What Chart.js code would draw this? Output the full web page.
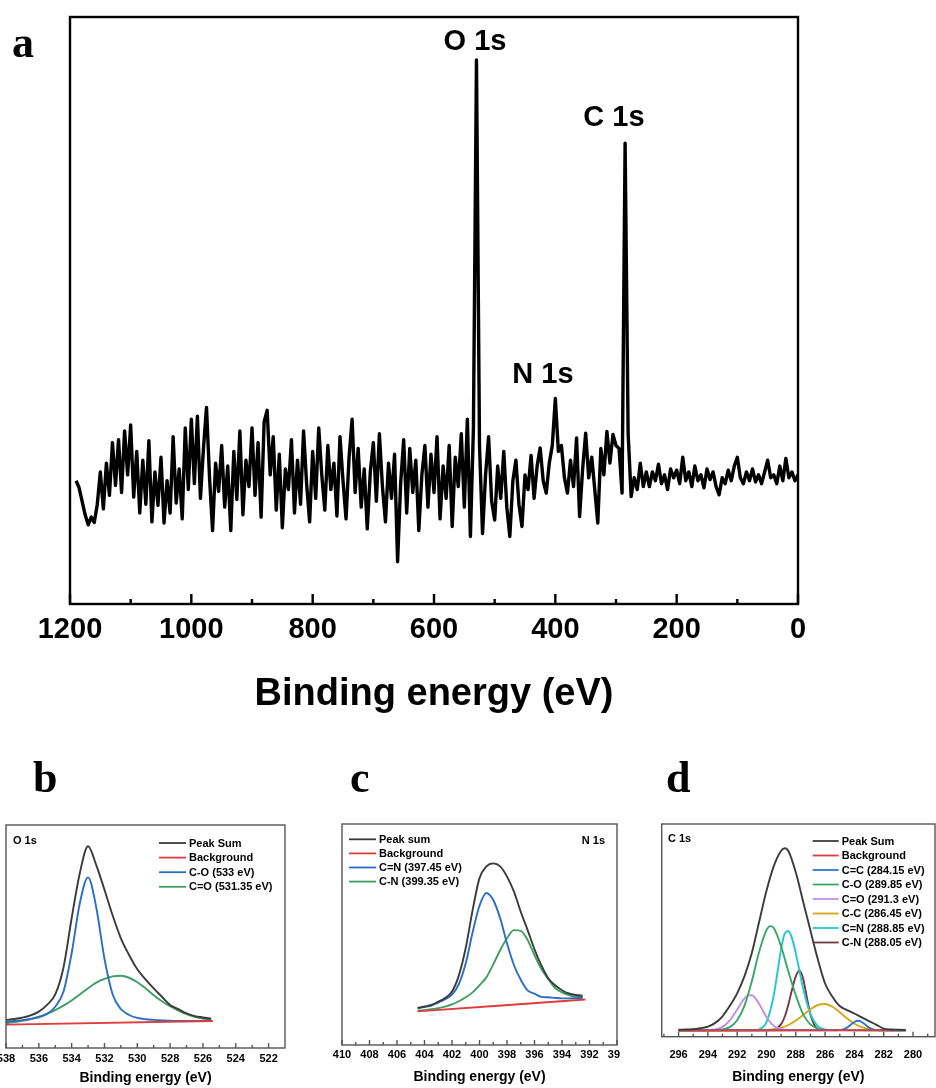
<!DOCTYPE html>
<html>
<head>
<meta charset="utf-8">
<script src="https://cdn.jsdelivr.net/npm/chart.js@4.4.0/dist/chart.umd.min.js"></script>
<style>
  body { margin: 0; background: #fff; width: 936px; height: 1088px; position: relative; overflow: hidden; }
  canvas { position: absolute; }
</style>
</head>
<body>
<canvas id="survey" width="936" height="740" style="left:0;top:0"></canvas>
<canvas id="o1s" width="310" height="348" style="left:0;top:740px"></canvas>
<canvas id="n1s" width="310" height="348" style="left:310px;top:740px"></canvas>
<canvas id="c1s" width="316" height="348" style="left:620px;top:740px"></canvas>
<script>
// ---- survey spectrum (a): sampled every 5 eV from 1190 eV down to 0 eV
var surveyStart = 1190, surveyStep = 5;
var surveyCounts = [
  21.0,19.8,17.5,15.2,13.5,14.8,13.9,17.0,22.5,16.2,24.0,18.5,27.5,20.2,28.0,19.0,29.5,22.0,30.5,
  18.2,26.0,15.5,24.5,17.0,27.8,14.0,22.5,16.8,25.0,13.8,21.0,15.5,28.5,17.2,23.0,14.5,30.0,19.5,31.5,
  20.5,32.0,18.0,26.5,33.5,21.5,12.5,24.0,19.2,27.0,16.5,23.5,12.5,26.0,17.8,29.5,15.2,24.5,20.0,30.0,
  18.5,27.5,14.8,31.0,33.0,22.0,28.5,16.0,25.5,13.0,23.0,19.5,28.0,15.5,24.5,17.0,29.5,20.5,14.0,26.0,
  18.0,30.0,22.0,16.0,27.0,19.5,24.0,15.0,28.5,21.0,14.5,25.0,31.5,19.0,26.5,16.5,23.0,12.8,22.5,27.5,
  17.5,29.0,20.0,14.0,24.0,18.0,25.5,7.2,20.5,28.0,15.5,26.5,19.0,24.5,12.5,22.0,27.0,16.5,25.5,19.0,
  28.5,14.5,23.5,18.0,27.0,13.2,25.0,20.0,29.0,16.5,31.5,
  11.5,30.0,92.7,27.0,12.0,
  22.0,28.5,17.5,14.3,23.5,18.0,26.0,16.5,11.5,21.0,24.5,17.0,13.2,22.0,19.5,25.3,18.0,23.5,26.6,21.0,
  18.9,24.0,27.0,35.0,26.0,27.0,21.5,18.9,24.5,20.0,28.3,14.9,23.0,29.1,21.5,25.0,19.5,13.8,26.5,22.0,
  29.4,24.0,28.9,27.0,
  26.5,18.9,78.5,29.0,18.3,21.5,19.5,24.0,20.0,
  22.5,20.0,22.5,21.0,23.8,20.5,22.0,19.5,23.0,21.5,22.8,20.5,25.0,21.0,22.5,20.0,23.5,21.0,22.0,19.8,
  23.0,21.2,22.5,20.0,18.6,21.5,20.5,22.8,21.0,23.5,25.0,21.5,20.5,22.5,21.0,23.0,20.8,22.0,20.5,22.5,
  24.5,21.5,22.0,20.5,23.5,21.0,24.8,21.5,22.5,21.0,22.0
];
var surveyTicks = [1200, 1000, 800, 600, 400, 200, 0];
var surveyMinor = [1100, 900, 700, 500, 300, 100];

// ---- O 1s (b)
var oEnergy = [538,537.5,537,536.5,536,535.5,535,534.5,534,533.5,533,532.5,532,531.5,531,530.5,530,529.5,529,528.5,528,527.5,527,526.5,526,525.5];
var oSum    = [12.6,13.0,13.6,14.6,16.3,19.3,24.0,36.0,58.2,78.5,90.5,82.0,71.0,59.4,49.2,41.7,35.3,30.8,26.7,23.0,19.3,17.4,15.5,14.3,13.7,13.1];
var oCO     = [11.8,12.1,12.5,13.0,13.8,15.3,18.5,25.2,42.5,65.0,76.5,63.0,40.0,24.0,17.5,14.8,13.5,12.9,12.6,12.4,12.2,12.1,12.1,12.1,12.2,12.3];
var oCdO    = [11.2,11.6,12.2,13.0,14.0,15.3,17.0,19.0,21.3,24.0,26.8,29.3,31.0,32.1,32.4,31.5,29.5,26.8,23.7,21.0,18.7,16.8,15.2,14.0,13.2,12.7];
var oBgEnergy = [538, 525.4];
var oBg = [10.5, 12.1];
var oTicks = [538, 536, 534, 532, 530, 528, 526, 524, 522];
var oMinor = [537, 535, 533, 531, 529, 527, 525, 523];

// ---- N 1s (c)
var nEnergy = [404.5,404,403.5,403,402.5,402,401.5,401,400.5,400,399.5,399,398.5,398,397.5,397,396.5,396,395.5,395,394.5,394,393.5,393,392.5];
var nSum    = [16.8,17.4,18.1,19.6,21.3,24.2,31.5,44.0,61.0,75.5,80.8,82.2,80.8,76.2,69.5,60.3,52.0,43.3,36.0,30.2,27.0,24.8,23.3,22.6,22.3];
var nCdN    = [16.6,17.2,17.8,19.2,20.7,22.8,27.6,37.0,51.0,63.0,68.8,65.6,57.4,46.0,36.2,29.5,24.7,23.2,21.8,21.6,21.3,21.1,21.1,21.2,21.3];
var nCN     = [15.5,15.8,16.2,16.7,17.4,18.4,19.8,21.6,23.8,27.0,30.6,36.5,42.9,48.3,52.0,51.6,47.5,40.6,34.4,29.8,25.8,23.8,22.6,21.9,21.7];
var nBgEnergy = [404.5, 392.3];
var nBg = [15.2, 20.6];
var nTicks = [410, 408, 406, 404, 402, 400, 398, 396, 394, 392, 390];
var nMinor = [409, 407, 405, 403, 401, 399, 397, 395, 393, 391];

// ---- C 1s (d)
var cSumEnergy = [296,295.5,295,294.5,294,293.5,293,292.5,292,291.5,291,290.5,290,289.5,289,288.75,288.5,288,287.5,287,286.5,286,285.5,285,284.5,284,283.5,283,282.5,282,281.5,281,280.5];
var cSum       = [3.3,3.4,3.5,4.0,4.7,6.5,9.6,14.5,20.4,28.5,39.4,54.0,68.6,80.2,87.4,88.6,87.2,77.3,63.6,49.9,36.5,25.0,18.8,14.4,12.5,10.9,9.1,7.3,5.6,3.8,3.4,3.3,3.2];
var cBgEnergy = [296, 280.5];
var cBg = [2.9, 3.1];
var cCdCEnergy = [296,285.5,285,284.5,284.25,284,283.75,283.5,283.25,283,282.5,282,280.5];
var cCdC       = [3.0,3.0,3.1,4.3,5.6,6.9,7.5,6.9,5.6,4.3,3.1,3.0,3.0];
var cCOEnergy = [296,293.5,293,292.5,292,291.5,291,290.5,290,289.75,289.5,289,288.5,288,287.5,287,286.5,286,280.5];
var cCO       = [3.0,3.1,3.4,4.5,7.7,14.6,26.1,39.9,50.1,52.0,51.1,42.4,30.5,19.5,10.5,5.8,3.8,3.2,3.0];
var cCdOEnergy = [296,294.5,294,293.5,293,292.5,292,291.5,291.25,291,290.5,290,289.5,289,288.5,280.5];
var cCdO       = [3.0,3.0,3.1,3.4,4.6,7.7,12.8,18.0,19.4,19.5,15.4,9.3,5.1,3.5,3.1,3.0];
var cCCEnergy = [296,290,289.5,289,288.5,288,287.5,287,286.5,286,285.5,285,284.5,284,283.5,283,282.5,280.5];
var cCC       = [3.0,3.2,3.5,4.2,5.5,7.6,10.2,12.9,14.9,15.4,14.1,11.5,8.6,6.1,4.5,3.6,3.2,3.0];
var cCdNEnergy = [296,291,290.5,290,289.5,289.25,289,288.75,288.5,288.25,288,287.5,287,286.5,286,285.5,280.5];
var cCdN       = [3.0,3.0,3.5,6.8,19.6,30.3,41.3,48.6,49.7,46.1,39.3,22.8,10.6,5.0,3.4,3.1,3.0];
var cCNEnergy = [296,290,289.5,289,288.75,288.5,288.25,288,287.75,287.5,287.25,287,286.75,286.5,286,280.5];
var cCN       = [3.0,3.0,3.3,5.9,9.5,15.3,22.3,28.4,31.0,27.4,18.7,10.4,5.7,3.7,3.1,3.0];
var cTicks = [296, 294, 292, 290, 288, 286, 284, 282, 280];
var cMinor = [297, 295, 293, 291, 289, 287, 285, 283, 281, 279];

var SANS = "'Liberation Sans', Arial, sans-serif";
var SERIF = "'Liberation Serif', 'Times New Roman', serif";

function pts(xs, ys) {
  return ys.map(function(v, i) { return { x: xs[i], y: v }; });
}

function line(label, xs, ys, color) {
  return {
    label: label, data: pts(xs, ys), borderColor: color, borderWidth: 1.9,
    pointRadius: 0, fill: false, cubicInterpolationMode: 'monotone'
  };
}

// frame, inward ticks, free text and the line legend
function framePlugin(cfg) {
  return {
    id: 'frame',
    afterDraw: function(chart) {
      var ctx = chart.ctx, a = chart.chartArea, x = chart.scales.x;
      ctx.save();
      ctx.strokeStyle = cfg.color;
      ctx.lineWidth = cfg.width;
      ctx.strokeRect(a.left, a.top, a.right - a.left, a.bottom - a.top);
      function tick(v, len) {
        var px = x.getPixelForValue(v);
        ctx.beginPath();
        ctx.moveTo(px, a.bottom);
        ctx.lineTo(px, a.bottom - len);
        ctx.stroke();
      }
      cfg.major.forEach(function(v) { tick(v, cfg.majorLen); });
      cfg.minor.forEach(function(v) { tick(v, cfg.minorLen); });

      ctx.fillStyle = '#000';
      ctx.textBaseline = 'alphabetic';
      cfg.notes.forEach(function(n) {
        ctx.font = n.font;
        ctx.textAlign = n.align || 'left';
        ctx.fillText(n.text, n.x, n.y);
      });

      if (cfg.legend) {
        var L = cfg.legend;
        ctx.font = 'bold ' + L.size + 'px ' + SANS;
        ctx.textAlign = 'left';
        ctx.textBaseline = 'middle';
        chart.data.datasets.forEach(function(ds, i) {
          var y = L.y + i * L.row;
          ctx.strokeStyle = ds.borderColor;
          ctx.lineWidth = 1.8;
          ctx.beginPath();
          ctx.moveTo(L.x, y);
          ctx.lineTo(L.x + L.len, y);
          ctx.stroke();
          ctx.fillText(ds.label, L.x + L.len + 3, y + 0.5);
        });
      }
      ctx.restore();
    }
  };
}

function makeChart(id, datasets, o) {
  return new Chart(document.getElementById(id), {
    type: 'line',
    data: { datasets: datasets },
    options: {
      responsive: false,
      animation: false,
      devicePixelRatio: 1,
      layout: { padding: { left: o.left, right: o.right, top: o.top, bottom: 0 } },
      plugins: { legend: { display: false }, tooltip: { enabled: false } },
      scales: {
        x: {
          type: 'linear', min: o.min, max: o.max, reverse: true,
          afterBuildTicks: function(s) { s.ticks = o.ticks.map(function(v) { return { value: v }; }); },
          afterFit: function(s) { s.height = o.axisH; s.paddingLeft = 0; s.paddingRight = 0; },
          grid: { display: false, drawTicks: false },
          border: { display: false },
          ticks: {
            autoSkip: false, maxRotation: 0, padding: o.tickPad, color: '#000',
            font: { family: SANS, size: o.tickSize, weight: 'bold' },
            callback: function(v) { return String(v); }
          },
          title: {
            display: true, text: 'Binding energy (eV)', color: '#000',
            font: { family: SANS, size: o.titleSize, weight: 'bold' },
            padding: { top: 0, bottom: o.titlePad }
          }
        },
        y: { display: false, min: 0, max: 100 }
      }
    },
    plugins: [framePlugin(o.frame)]
  });
}

// (a) survey
makeChart('survey', [{
  label: 'Survey',
  data: surveyCounts.map(function(v, i) { return { x: surveyStart - i * surveyStep, y: v }; }),
  borderColor: '#000', borderWidth: 3.4, pointRadius: 0, fill: false, tension: 0,
  borderJoinStyle: 'round'
}], {
  left: 70, right: 138, top: 17, axisH: 136, min: 0, max: 1200, ticks: surveyTicks,
  tickPad: 9, tickSize: 29, titleSize: 38, titlePad: 23,
  frame: {
    color: '#000', width: 2.4, major: surveyTicks, minor: surveyMinor, majorLen: 10, minorLen: 5,
    notes: [
      { text: 'a', x: 12, y: 57, font: 'bold 44px ' + SERIF },
      { text: 'O 1s', x: 475, y: 50, align: 'center', font: 'bold 29px ' + SANS },
      { text: 'C 1s', x: 614, y: 126, align: 'center', font: 'bold 29px ' + SANS },
      { text: 'N 1s', x: 543, y: 383, align: 'center', font: 'bold 29px ' + SANS }
    ]
  }
});

// (b) O 1s
makeChart('o1s', [
  line('Peak Sum', oEnergy, oSum, '#3b3b3b'),
  line('Background', oBgEnergy, oBg, '#e03c3c'),
  line('C-O (533 eV)', oEnergy, oCO, '#2b6fc4'),
  line('C=O (531.35 eV)', oEnergy, oCdO, '#3f9f62')
], {
  left: 6, right: 25, top: 85, axisH: 40, min: 521, max: 538, ticks: oTicks,
  tickPad: 4, tickSize: 11, titleSize: 14, titlePad: 1.5,
  frame: {
    color: '#555', width: 1.4, major: oTicks, minor: oMinor, majorLen: 5, minorLen: 3,
    legend: { x: 159, y: 103, len: 27, row: 14.6, size: 11 },
    notes: [
      { text: 'b', x: 33, y: 52, font: 'bold 44px ' + SERIF },
      { text: 'O 1s', x: 13, y: 103.5, font: 'bold 11px ' + SANS }
    ]
  }
});

// (c) N 1s
makeChart('n1s', [
  line('Peak sum', nEnergy, nSum, '#3b3b3b'),
  line('Background', nBgEnergy, nBg, '#e03c3c'),
  line('C=N (397.45 eV)', nEnergy, nCdN, '#2b6fc4'),
  line('C-N (399.35 eV)', nEnergy, nCN, '#3f9f62')
], {
  left: 32, right: 3, top: 84, axisH: 43, min: 390, max: 410, ticks: nTicks,
  tickPad: 3, tickSize: 11, titleSize: 14, titlePad: 2.5,
  frame: {
    color: '#555', width: 1.4, major: nTicks, minor: nMinor, majorLen: 5, minorLen: 3,
    legend: { x: 39, y: 99.3, len: 27, row: 14.1, size: 11 },
    notes: [
      { text: 'c', x: 40, y: 52, font: 'bold 44px ' + SERIF },
      { text: 'N 1s', x: 295, y: 103.5, align: 'right', font: 'bold 11px ' + SANS }
    ]
  }
});

// (d) C 1s
makeChart('c1s', [
  line('Peak Sum', cSumEnergy, cSum, '#3b3b3b'),
  line('Background', cBgEnergy, cBg, '#e03c3c'),
  line('C=C (284.15 eV)', cCdCEnergy, cCdC, '#2f74d0'),
  line('C-O (289.85 eV)', cCOEnergy, cCO, '#3aa66a'),
  line('C=O (291.3 eV)', cCdOEnergy, cCdO, '#c48ee0'),
  line('C-C (286.45 eV)', cCCEnergy, cCC, '#d4a819'),
  line('C=N (288.85 eV)', cCdNEnergy, cCdN, '#22c7cc'),
  line('C-N (288.05 eV)', cCNEnergy, cCN, '#6e3b43')
], {
  left: 41.7, right: 1, top: 84, axisH: 51.3, min: 278.5, max: 297.15, ticks: cTicks,
  tickPad: 12, tickSize: 11, titleSize: 14, titlePad: 2.5,
  frame: {
    color: '#555', width: 1.4, major: cTicks, minor: cMinor, majorLen: 5, minorLen: 3,
    legend: { x: 192.7, y: 101, len: 26, row: 14.5, size: 11 },
    notes: [
      { text: 'd', x: 46, y: 52, font: 'bold 44px ' + SERIF },
      { text: 'C 1s', x: 48, y: 102, font: 'bold 11px ' + SANS }
    ]
  }
});
</script>
</body>
</html>
